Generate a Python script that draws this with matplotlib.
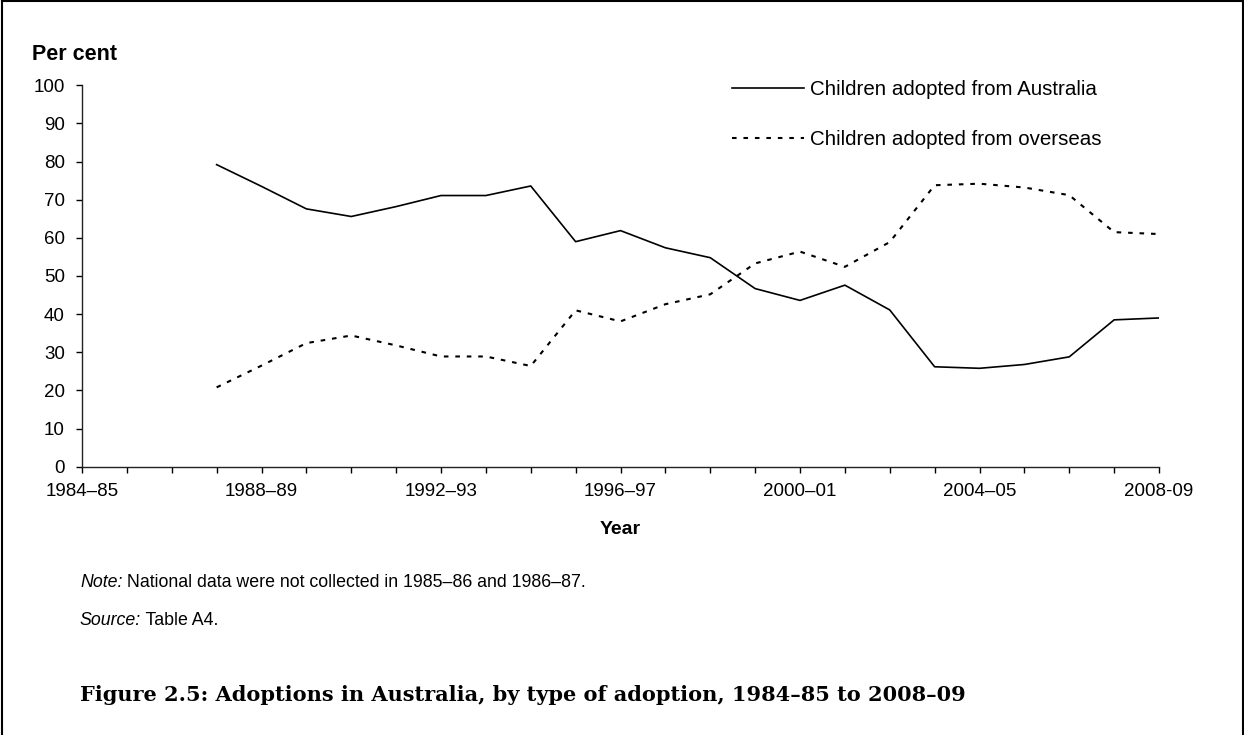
import matplotlib.pyplot as plt
from matplotlib.lines import Line2D

# years 1984-85 .. 2008-09 (25 categories on the axis)
years = ['1984–85', '1985–86', '1986–87', '1987–88', '1988–89', '1989–90',
         '1990–91', '1991–92', '1992–93', '1993–94', '1994–95', '1995–96',
         '1996–97', '1997–98', '1998–99', '1999–00', '2000–01', '2001–02',
         '2002–03', '2003–04', '2004–05', '2005–06', '2006–07', '2007–08',
         '2008-09']
tick_labels = ['1984–85', '1988–89', '1992–93', '1996–97', '2000–01', '2004–05', '2008-09']

# data only from 1987-88 onwards (not collected 1985-86, 1986-87)
data_years = years[3:]
australia = [79.2, 73.5, 67.6, 65.6, 68.2, 71.1, 71.1, 73.6, 59.0, 61.9, 57.4,
             54.8, 46.7, 43.6, 47.6, 41.1, 26.2, 25.8, 26.8, 28.8, 38.5, 39.0]
overseas = [20.8, 26.5, 32.4, 34.4, 31.8, 28.9, 28.9, 26.4, 41.0, 38.1, 42.6,
            45.2, 53.3, 56.4, 52.4, 58.9, 73.8, 74.2, 73.2, 71.2, 61.5, 61.0]

plt.rcParams['font.family'] = ['Liberation Sans', 'DejaVu Sans']

W, H = 1244, 735
fig = plt.figure(figsize=(W / 100, H / 100), dpi=100)
ax = fig.add_axes([82 / W, 1 - 466.7 / H, (1159 - 82) / W, (466.7 - 85.3) / H])

xpos = {y: i for i, y in enumerate(years)}
xs = [xpos[y] for y in data_years]

ax.plot(xs, australia, color='black', lw=1.2, label='Children adopted from Australia')
ax.plot(xs, overseas, color='black', lw=1.5, linestyle=(0, (2.2, 3.3)),
        label='Children adopted from overseas')

ax.set_xlim(0, len(years) - 1)
ax.set_ylim(0, 100)
ax.set_yticks(range(0, 101, 10))
ax.set_xticks(range(len(years)))
ax.set_xticklabels([y if y in tick_labels else '' for y in years])
ax.tick_params(axis='y', length=4.3, width=1, pad=8, labelsize=13.5)
ax.tick_params(axis='x', length=4, width=1, pad=8, labelsize=13.5)

for s in ['top', 'right']:
    ax.spines[s].set_visible(False)
for s in ['left', 'bottom']:
    ax.spines[s].set_linewidth(1)
    ax.spines[s].set_color('#222222')

ax.legend(loc='upper left', bbox_to_anchor=(732 / W, 1 - 80 / H),
          bbox_transform=fig.transFigure, frameon=False, fontsize=14.8,
          handlelength=3.5, handletextpad=0.3, labelspacing=1.5,
          borderpad=0, borderaxespad=0)

fig.text(32 / W, 1 - 60 / H, 'Per cent', fontsize=15.5, fontweight='bold', va='baseline')
fig.text(620.5 / W, 1 - 529 / H, 'Year', fontsize=14, fontweight='bold',
         ha='center', va='center')

# note and source: italic lead word, plain rest
note = fig.text(80 / W, 1 - 591 / H, 'Note:', fontsize=12.8, style='italic', va='bottom')
ax.annotate(' National data were not collected in 1985–86 and 1986–87.',
            xy=(1, 0), xycoords=note, fontsize=12.8, va='bottom', ha='left',
            annotation_clip=False)
src = fig.text(80 / W, 1 - 629 / H, 'Source:', fontsize=12.8, style='italic', va='bottom')
ax.annotate(' Table A4.', xy=(1, 0), xycoords=src, fontsize=12.8, va='bottom',
            ha='left', annotation_clip=False)

fig.text(80 / W, 1 - 695 / H,
         'Figure 2.5: Adoptions in Australia, by type of adoption, 1984–85 to 2008–09',
         fontsize=15.0, fontweight='bold', family='DejaVu Serif', va='center')

# frame round the figure (left, top, right)
fig.add_artist(Line2D([1.5 / W, 1.5 / W], [0, 1 - 1 / H], color='black', lw=1.5))
fig.add_artist(Line2D([1.5 / W, 1 - 1.5 / W], [1 - 1 / H, 1 - 1 / H], color='black', lw=1.5))
fig.add_artist(Line2D([1 - 1.5 / W, 1 - 1.5 / W], [0, 1 - 1 / H], color='black', lw=1.5))

fig.savefig('out.png', dpi=100)
